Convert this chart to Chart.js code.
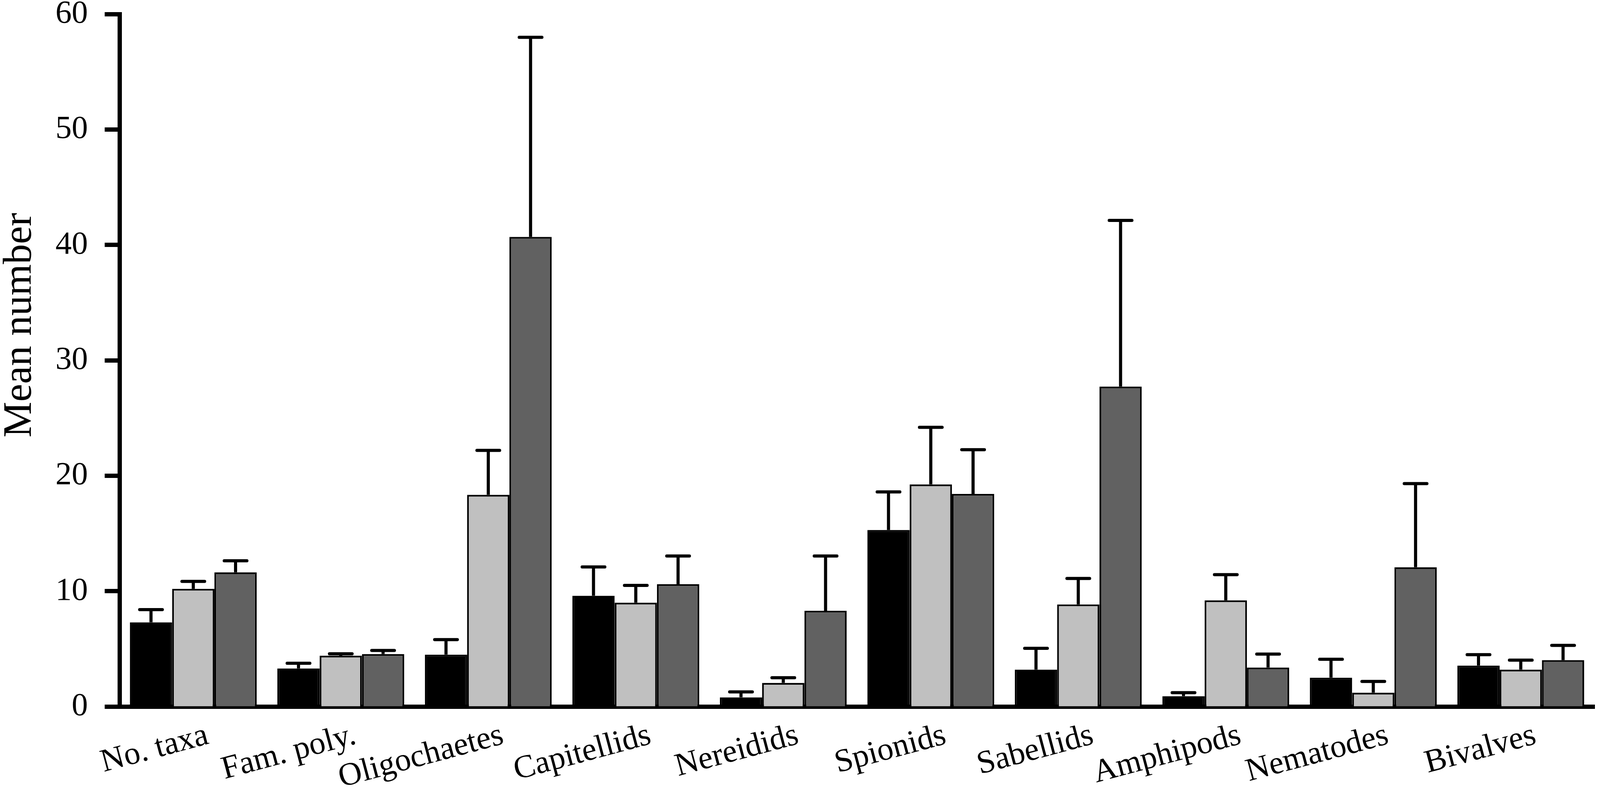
<!DOCTYPE html>
<html>
<head>
<meta charset="utf-8">
<script src="https://cdn.jsdelivr.net/npm/chart.js@4.4.1/dist/chart.umd.min.js"></script>
<style>
  html, body { margin: 0; padding: 0; background: #fff; overflow: hidden; }
  /* canvas shifted up so the 60 tick sits near the top edge */
  #wrap { width: 4099px; height: 2063px; margin-top: -44px; }
</style>
</head>
<body>
<div id="wrap"><canvas id="chart"></canvas></div>
<script>
var categories = ['No. taxa', 'Fam. poly.', 'Oligochaetes', 'Capitellids', 'Nereidids',
                  'Spionids', 'Sabellids', 'Amphipods', 'Nematodes', 'Bivalves'];

// means
var meanBlack = [7.3, 3.3, 4.5, 9.6, 0.8, 15.3, 3.2, 0.9, 2.5, 3.55];
var meanLight = [10.2, 4.4, 18.35, 9.0, 2.05, 19.25, 8.85, 9.2, 1.2, 3.2];
var meanDark  = [11.63, 4.55, 40.7, 10.6, 8.3, 18.42, 27.73, 3.38, 12.07, 4.02];

// upper error (SE)
var errBlack = [1.1, 0.45, 1.3, 2.5, 0.47, 3.3, 1.85, 0.3, 1.6, 0.95];
var errLight = [0.65, 0.17, 3.85, 1.5, 0.45, 4.95, 2.25, 2.23, 0.98, 0.82];
var errDark  = [1.0, 0.31, 17.3, 2.45, 4.75, 3.84, 14.4, 1.17, 7.25, 1.28];

var yTicks = [0, 10, 20, 30, 40, 50, 60];

var serif = 'Liberation Serif';

var errorBars = {
  id: 'errorBars',
  afterDatasetsDraw: function(chart) {
    var ctx = chart.ctx;
    var yScale = chart.scales.y;
    chart.data.datasets.forEach(function(ds, i) {
      var meta = chart.getDatasetMeta(i);
      meta.data.forEach(function(bar, j) {
        var top = yScale.getPixelForValue(ds.data[j] + ds.errors[j]);
        ctx.save();
        ctx.strokeStyle = '#000';
        ctx.lineWidth = 8;
        ctx.beginPath();
        ctx.moveTo(bar.x, bar.y);
        ctx.lineTo(bar.x, top);
        ctx.stroke();
        ctx.lineCap = 'round';
        ctx.beginPath();
        ctx.moveTo(bar.x - 29, top);
        ctx.lineTo(bar.x + 29, top);
        ctx.stroke();
        ctx.restore();
      });
    });
  }
};

function series(label, data, errors, color) {
  return {
    label: label,
    data: data,
    errors: errors,
    backgroundColor: color,
    borderColor: '#000',
    borderWidth: 4.5,
    barPercentage: 1.0,
    categoryPercentage: 0.86
  };
}

new Chart(document.getElementById('chart'), {
  type: 'bar',
  data: {
    labels: categories,
    datasets: [
      series('Series 1', meanBlack, errBlack, '#000000'),
      series('Series 2', meanLight, errLight, '#c0c0c0'),
      series('Series 3', meanDark, errDark, '#616161')
    ]
  },
  options: {
    responsive: true,
    maintainAspectRatio: false,
    devicePixelRatio: 1,
    animation: false,
    layout: { padding: { left: 0, right: 17, top: 0, bottom: 0 } },
    plugins: {
      legend: { display: false },
      tooltip: { enabled: false }
    },
    scales: {
      x: {
        z: 1,
        grid: { display: false, drawTicks: false },
        border: { display: true, color: '#000', width: 11 },
        ticks: {
          autoSkip: false,
          maxRotation: 15,
          minRotation: 15,
          labelOffset: 37,
          padding: 25,
          color: '#000',
          font: { family: serif, size: 83 }
        },
        afterFit: function(s) { s.height = 211; }
      },
      y: {
        min: 0,
        max: 60,
        afterBuildTicks: function(s) {
          s.ticks = yTicks.map(function(v) { return { value: v }; });
        },
        grid: {
          drawOnChartArea: false,
          drawTicks: true,
          tickLength: 38,
          tickWidth: 11,
          tickColor: '#000'
        },
        border: { display: true, color: '#000', width: 11 },
        ticks: {
          padding: 43,
          color: '#000',
          font: { family: serif, size: 83, lineHeight: 0.9 }
        },
        title: {
          display: true,
          text: '\u00A0\u00A0\u00A0\u00A0\u00A0\u00A0\u00A0Mean number',
          color: '#000',
          padding: 0,
          font: { family: serif, size: 103, lineHeight: 1 }
        },
        afterFit: function(s) { s.width = 306; }
      }
    }
  },
  plugins: [errorBars]
});
</script>
</body>
</html>
